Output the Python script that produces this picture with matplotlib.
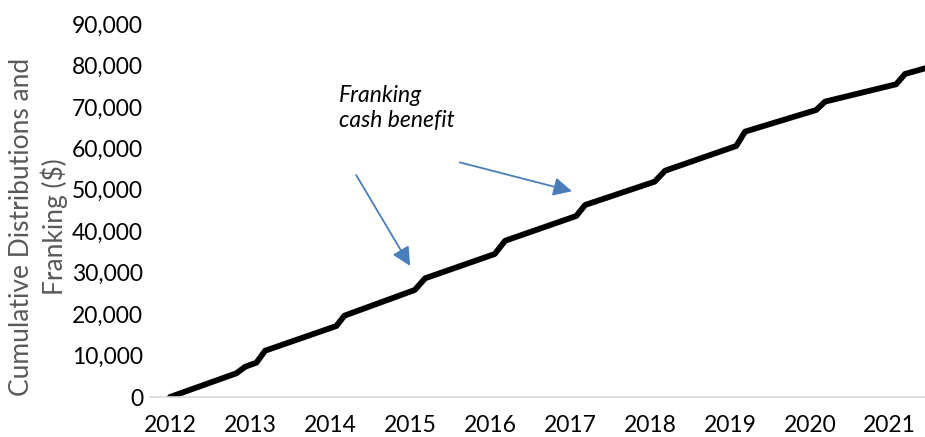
import matplotlib
matplotlib.use("Agg")
import matplotlib.pyplot as plt
from matplotlib.ticker import FuncFormatter

# data (decimal years, cumulative $)
years = [2012.00, 2012.83, 2012.94, 2013.08, 2013.19, 2014.08, 2014.18,
         2015.06, 2015.19, 2016.06, 2016.19, 2017.08, 2017.19, 2018.06,
         2018.19, 2019.08, 2019.19, 2020.08, 2020.19, 2021.08, 2021.19, 2021.44]
cumulative = [0, 5720, 7300, 8280, 11170, 17130, 19620,
              25820, 28640, 34500, 37700, 43680, 46330, 51960,
              54600, 60570, 64030, 69260, 71270, 75460, 77940, 79300]
year_ticks = list(range(2012, 2022))
value_ticks = list(range(0, 90001, 10000))

plt.rcParams['font.family'] = ['Lato', 'DejaVu Sans']

fig = plt.figure(figsize=(9.25, 4.37), dpi=100)
ax = fig.add_axes([150/925, 1 - 397/437, 775/925, (397 - 24)/437])

ax.plot(years, cumulative, color='black', lw=4.2,
        solid_joinstyle='round', solid_capstyle='round')

ax.set_xlim(2011.75, 2021.44)
ax.set_ylim(0, 90000)
ax.set_xticks(year_ticks)
ax.set_yticks(value_ticks)
ax.yaxis.set_major_formatter(FuncFormatter(lambda v, p: f"{int(v):,}"))
ax.tick_params(axis='both', length=0, labelsize=16.5, colors='black')
ax.tick_params(axis='x', pad=13)
ax.tick_params(axis='y', pad=5)

for s in ['top', 'right', 'left']:
    ax.spines[s].set_visible(False)
ax.spines['bottom'].set_color('#d9d9d9')
ax.spines['bottom'].set_linewidth(1.2)

fig.text(22/925, 1 - 227/437, "Cumulative Distributions and", rotation=90,
         ha='center', va='center', fontsize=19, color='#595959')
fig.text(54/925, 1 - 227/437, "Franking ($)", rotation=90,
         ha='center', va='center', fontsize=19, color='#595959')

# annotation
ax.text(2014.11, 65150, "Franking\ncash benefit", fontsize=16.5, style='italic',
        ha='left', va='baseline', linespacing=1.22)
arrow = dict(arrowstyle='-|>', color='#4A7EBB', lw=1.3, mutation_scale=28)
ax.annotate("", xy=(2015.02, 31060), xytext=(2014.31, 54130), arrowprops=arrow)
ax.annotate("", xy=(2017.06, 49470), xytext=(2015.59, 56780), arrowprops=arrow)

fig.savefig("out.png", dpi=100)
